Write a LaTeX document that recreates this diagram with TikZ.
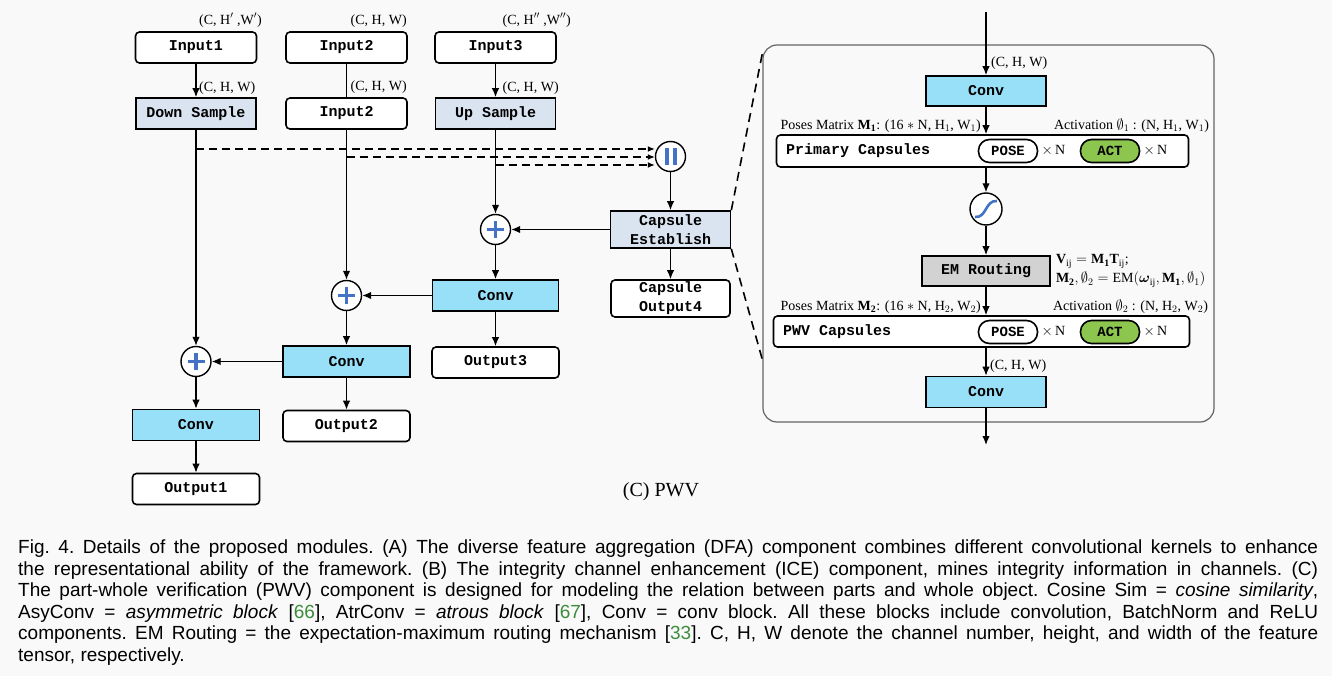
\documentclass[tikz,border=0pt]{standalone}
\usepackage{amsmath}
\usepackage{fontspec}
\setmainfont{Liberation Serif}
\setsansfont{Liberation Sans}
\setmonofont{Liberation Mono}
\usetikzlibrary{arrows.meta,positioning}

\definecolor{bgcol}{RGB}{249,249,249}
\definecolor{samplecol}{RGB}{218,228,241}
\definecolor{convcol}{RGB}{152,224,248}
\definecolor{emcol}{RGB}{210,210,210}
\definecolor{actcol}{RGB}{141,198,78}
\definecolor{opblue}{RGB}{68,114,196}
\definecolor{citegreen}{RGB}{60,140,60}
\definecolor{framegray}{RGB}{100,100,100}

\newcommand{\blkfont}{\fontsize{15}{18}\selectfont\ttfamily\bfseries}
\newcommand{\lblfont}{\fontsize{14}{16}\selectfont\rmfamily}
\newcommand{\capfnt}{\fontsize{19}{21.5}\selectfont\sffamily\frenchspacing}
\newcommand{\citeg}[1]{[\textcolor{citegreen}{#1}]}

\tikzset{
  blk/.style={draw, line width=1.6pt, minimum width=121pt, minimum height=31pt,
    inner sep=1pt, font=\blkfont, align=center},
  iobox/.style={blk, fill=white, rounded corners=4pt},
  samplebox/.style={blk, fill=samplecol},
  convbox/.style={blk, fill=convcol},
  embox/.style={blk, fill=emcol},
  capsbox/.style={draw, line width=1.6pt, fill=white, rounded corners=4pt,
    minimum width=412pt, minimum height=32pt},
  pill/.style={draw, line width=1.6pt, rounded corners=11pt, minimum width=59pt,
    minimum height=23pt, inner sep=0pt, font=\fontsize{14}{16}\selectfont\ttfamily\bfseries},
  opnode/.style={circle, draw, line width=1.4pt, fill=white, minimum size=30pt, inner sep=0pt},
  dimlab/.style={font=\lblfont, inner sep=1pt},
  link/.style={line width=1.4pt, ->},
  skip/.style={line width=1.6pt, dash pattern=on 8pt off 5pt,
    -{Latex[length=7pt,width=6pt]}},
  zoomline/.style={line width=1.6pt, dash pattern=on 9pt off 6pt},
}

\begin{document}
\begin{tikzpicture}[x=1pt, y=-1pt, >={Latex[length=9pt,width=7.5pt]}]
        \fill[bgcol] (0,0) rectangle (1332,676);
        \useasboundingbox (0,0) rectangle (1332,676);
        %Inputs
        \node[iobox] (in1) at (196,47.5) {Input1};
        \node[iobox] (in2) at (346.5,47.5) {Input2};
        \node[iobox] (in3) at (495.5,47.5) {Input3};
        \node[samplebox, minimum width=120pt] (dsamp) at (196,113.5) {Down Sample};
        \node[iobox] (mid2) at (346.5,113.5) {Input2};
        \node[samplebox, minimum width=120pt] (usamp) at (495.5,113.5) {Up Sample};
        %Concat and capsule branch
        \node[opnode] (concat) at (670.5,156.5) {};
        \node[samplebox, minimum width=120pt, minimum height=37pt] (capest) at (670.5,229.5) {Capsule\\[1pt]Establish};
        \node[iobox, minimum width=119pt, minimum height=37pt] (capout) at (670.5,298.5) {Capsule\\[1pt]Output4};
        %Fusion path
        \node[opnode] (sumr) at (495.5,229.5) {};
        \node[convbox, minimum width=126pt] (convr) at (495.5,295.5) {Conv};
        \node[iobox, minimum width=127pt] (out3) at (495.5,362.5) {Output3};
        \node[opnode] (summ) at (346.5,295.5) {};
        \node[convbox, minimum width=127pt] (convm) at (346.5,361.5) {Conv};
        \node[iobox, minimum width=127pt] (out2) at (346.5,426) {Output2};
        \node[opnode] (suml) at (196,361.5) {};
        \node[convbox, minimum width=127pt] (convl) at (196,425) {Conv};
        \node[iobox, minimum width=127pt] (out1) at (196,489) {Output1};
        %Shape labels
        \node[dimlab, anchor=south west] at ([xshift=2pt,yshift=3pt]in1.north) {(C, H$'$ ,W$'$)};
        \node[dimlab, anchor=south west] at ([xshift=3pt,yshift=3pt]in2.north) {(C, H, W)};
        \node[dimlab, anchor=south west] at ([xshift=6pt,yshift=3pt]in3.north) {(C, H$''$ ,W$''$)};
        \node[dimlab, anchor=south west] at ([xshift=2pt,yshift=2pt]dsamp.north) {(C, H, W)};
        \node[dimlab, anchor=south west] at ([xshift=3pt,yshift=3pt]mid2.north) {(C, H, W)};
        \node[dimlab, anchor=south west] at ([xshift=6pt,yshift=2pt]usamp.north) {(C, H, W)};
        %Links
        \draw[link] (in1) -- (dsamp);
        \draw[line width=1.4pt] (in2) -- (mid2);
        \draw[link] (in3) -- (usamp);
        \draw[link] (dsamp) -- (suml);
        \draw[link] (mid2) -- (summ);
        \draw[link] (usamp) -- (sumr);
        \draw[link] (concat) -- (capest);
        \draw[link] (capest) -- (capout);
        \draw[link] (capest) -- (sumr);
        \draw[link] (sumr) -- (convr);
        \draw[link] (convr) -- (out3);
        \draw[link] (convr) -- (summ);
        \draw[link] (summ) -- (convm);
        \draw[link] (convm) -- (out2);
        \draw[link] (convm) -- (suml);
        \draw[link] (suml) -- (convl);
        \draw[link] (convl) -- (out1);
        %Skip links to the concat node
        \coordinate (tap1) at (196,149);
        \coordinate (tap2) at (346.5,157);
        \coordinate (tap3) at (495.5,165);
        \foreach \t in {tap1, tap2, tap3}
          \draw[skip] (\t) -- (\t -| concat.west);
        %Operator glyphs
        \foreach \s in {sumr, summ, suml}
          \draw[opblue, line width=3.6pt] ([xshift=-8.5pt]\s.center) -- ([xshift=8.5pt]\s.center)
            ([yshift=-8.5pt]\s.center) -- ([yshift=8.5pt]\s.center);
        \foreach \dx in {-6, 2}
          \fill[opblue] ([xshift=\dx pt,yshift=-8.5pt]concat.center) rectangle ([xshift=\dx pt+4pt,yshift=8.5pt]concat.center);

        %PWV frame
        \node[draw=framegray, line width=1.2pt, rounded corners=14pt, minimum width=451pt,
          minimum height=377pt] (pwvbox) at (988.5,233.5) {};
        \coordinate (zoomtop) at (763,50);
        \coordinate (zoombot) at (763,362);
        \draw[zoomline] (capest.north east) -- (zoomtop);
        \draw[zoomline] (capest.south east) -- (zoombot);
        %PWV blocks
        \coordinate (pwvin) at (986,12);
        \coordinate (pwvout) at (986,445);
        \node[convbox, minimum width=120pt, minimum height=30pt] (pconv) at (986,91) {Conv};
        \node[capsbox] (primcap) at (982.5,151) {};
        \node[font=\blkfont, anchor=west] (primtxt) at ([xshift=7pt]primcap.west) {Primary Capsules};
        \node[pill, fill=white] (pose1) at (1008,151) {POSE};
        \node[pill, fill=actcol] (act1) at (1110,151) {ACT};
        \node[opnode, minimum size=32pt] (sig) at (986,209) {};
        \draw[opblue, line width=2.6pt] ([xshift=-11pt,yshift=-8pt]sig.center)
          .. controls ([xshift=1pt,yshift=-9pt]sig.center) and ([xshift=-1pt,yshift=9pt]sig.center)
          .. ([xshift=11pt,yshift=8pt]sig.center);
        \node[embox, minimum width=128pt, minimum height=30pt] (emr) at (986,271) {EM Routing};
        \node[capsbox, minimum width=416pt, minimum height=31pt] (pwvcap) at (981.5,331.5) {};
        \node[font=\blkfont, anchor=west] (pwvtxt) at ([xshift=7pt]pwvcap.west) {PWV Capsules};
        \node[pill, fill=white] (pose2) at (1008,332) {POSE};
        \node[pill, fill=actcol] (act2) at (1110,332) {ACT};
        \node[convbox, minimum width=120pt] (conv2) at (986,392) {Conv};
        \foreach \p in {pose1, act1, pose2, act2}
          \node[dimlab, right=2pt of \p] {$\times$\,N};
        %PWV links
        \draw[link] (pwvin) -- (pconv);
        \draw[link] (pconv.south) -- (pconv.south |- primcap.north);
        \draw[link] (sig.north |- primcap.south) -- (sig);
        \draw[link] (sig) -- (emr);
        \draw[link] (emr.south) -- (emr.south |- pwvcap.north);
        \draw[link] (conv2.north |- pwvcap.south) -- (conv2);
        \draw[link] (conv2) -- (pwvout);
        %PWV labels
        \node[dimlab, anchor=south west] at ([xshift=4pt,yshift=5pt]pconv.north) {(C, H, W)};
        \node[dimlab, anchor=south west] at ([xshift=3pt,yshift=2pt]conv2.north) {(C, H, W)};
        \node[dimlab, anchor=south east] at ([xshift=-4pt,yshift=1pt]pconv.south |- primcap.north)
          {Poses Matrix $\mathbf{M_1}$: (16 $*$ N, H$_1$, W$_1$)};
        \node[dimlab, anchor=south east] at ([xshift=21pt,yshift=1pt]primcap.north east)
          {Activation $\emptyset_1$ : (N, H$_1$, W$_1$)};
        \node[dimlab, anchor=south east] at ([xshift=-4pt,yshift=1pt]emr.south |- pwvcap.north)
          {Poses Matrix $\mathbf{M_2}$: (16 $*$ N, H$_2$, W$_2$)};
        \node[dimlab, anchor=south east] at ([xshift=19pt,yshift=1pt]pwvcap.north east)
          {Activation $\emptyset_2$ : (N, H$_2$, W$_2$)};
        \node[dimlab, right=4pt of emr, align=left] (eqs)
          {$\mathbf{V}_{\mathrm{ij}} = \mathbf{M_1T}_{\mathrm{ij}}$;\\[3pt]
           $\mathbf{M_2}, \emptyset_2 = \mathrm{EM}(\boldsymbol{\omega}_{\mathrm{ij}}, \mathbf{M_1}, \emptyset_1)$};

        %Title and caption
        \node[font=\fontsize{20}{24}\selectfont\rmfamily] (pwvtitle) at (661,492) {(C) PWV};
        \node[anchor=north west, inner sep=0pt] (caption) at (18,540) {\parbox{1300pt}{\capfnt
          Fig. 4. Details of the proposed modules. (A) The diverse feature aggregation (DFA) component combines different convolutional kernels to enhance\linebreak
          the representational ability of the framework. (B) The integrity channel enhancement (ICE) component, mines integrity information in channels. (C)\linebreak
          The part-whole verification (PWV) component is designed for modeling the relation between parts and whole object. Cosine Sim = \textit{cosine similarity},\linebreak
          AsyConv = \textit{asymmetric block} \citeg{66}, AtrConv = \textit{atrous block} \citeg{67}, Conv = conv block. All these blocks include convolution, BatchNorm and ReLU\linebreak
          components. EM Routing = the expectation-maximum routing mechanism \citeg{33}. C, H, W denote the channel number, height, and width of the feature\linebreak
          tensor, respectively.}};
      \end{tikzpicture}
\end{document}
